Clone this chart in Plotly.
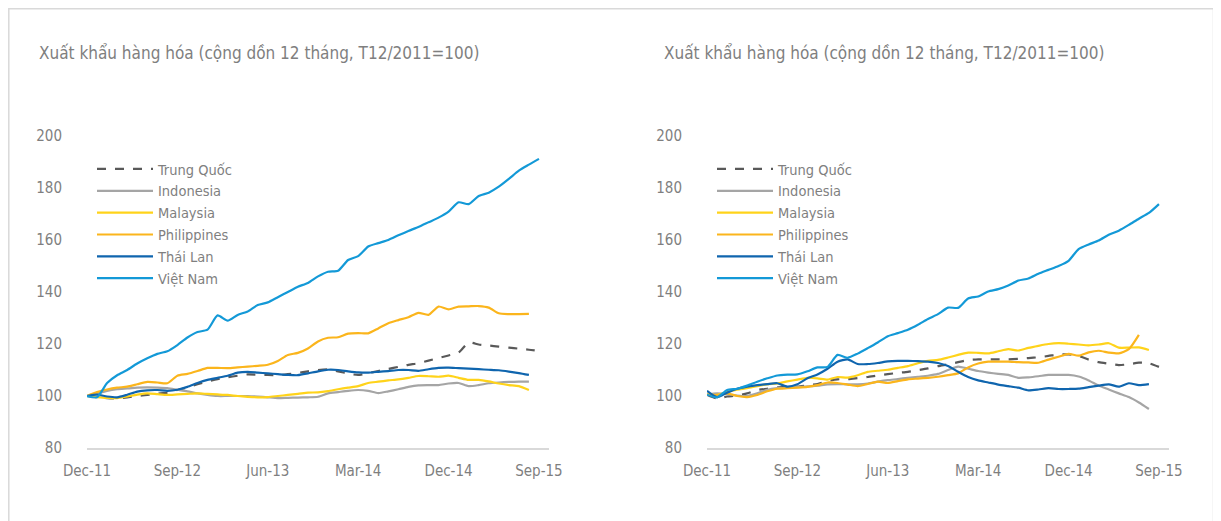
import plotly.graph_objects as go

# ---- data ----
month_labels = [
    "Dec-11", "Jan-12", "Feb-12", "Mar-12", "Apr-12", "May-12", "Jun-12", "Jul-12", "Aug-12", "Sep-12",
    "Oct-12", "Nov-12", "Dec-12", "Jan-13", "Feb-13", "Mar-13", "Apr-13", "May-13", "Jun-13", "Jul-13",
    "Aug-13", "Sep-13", "Oct-13", "Nov-13", "Dec-13", "Jan-14", "Feb-14", "Mar-14", "Apr-14", "May-14",
    "Jun-14", "Jul-14", "Aug-14", "Sep-14", "Oct-14", "Nov-14", "Dec-14", "Jan-15", "Feb-15", "Mar-15",
    "Apr-15", "May-15", "Jun-15", "Jul-15", "Aug-15", "Sep-15",
]
tick_labels = ["Dec-11", "Sep-12", "Jun-13", "Mar-14", "Dec-14", "Sep-15"]
series_names = ["Trung Quốc", "Indonesia", "Malaysia", "Philippines", "Thái Lan", "Việt Nam"]
chart_title = "Xuất khẩu hàng hóa (cộng dồn 12 tháng, T12/2011=100)"

# left chart
left_china = [100, 99.5, 99.2, 99.1, 99.5, 100, 100.4, 100.9, 101.3, 102.3, 103.3, 104.5, 105.6, 106.5,
              107.2, 107.8, 108.3, 108.2, 108.1, 108, 108.4, 108.9, 109.5, 110, 110.2, 109.5, 108.6, 108.1,
              108.8, 109.6, 110.4, 111.2, 112, 112.6, 113.6, 114.6, 115.6, 116.7, 120.6, 119.8, 119.4, 119,
              118.6, 118.2, 117.8, 117.3]
left_indonesia = [100, 101, 102, 102.6, 102.9, 103.2, 103.3, 103.2, 103, 102.4, 101.8, 101, 100.4, 100,
                  100, 100, 100, 99.8, 99.5, 99.2, 99.3, 99.4, 99.5, 99.7, 101, 101.5, 102, 102.3, 102,
                  101.1, 101.8, 102.6, 103.5, 104.1, 104.2, 104.2, 104.8, 105, 103.8, 104.2, 104.9, 105.2,
                  105.4, 105.5, 105.5]
left_malaysia = [100, 99.6, 99.3, 99.2, 99.8, 100.5, 101, 100.7, 100.4, 100.6, 100.8, 101, 100.8, 100.6,
                 100.4, 100, 99.7, 99.5, 99.6, 100, 100.4, 100.8, 101.3, 101.4, 101.9, 102.6, 103.2, 103.8,
                 105, 105.5, 106, 106.4, 107, 107.7, 107.6, 107.4, 107.8, 107, 106.2, 106.2, 105.6, 104.8,
                 104.2, 103.8, 102.3]
left_philippines = [100, 101.5, 102.5, 103.2, 103.6, 104.5, 105.4, 105.2, 104.9, 107.8, 108.5, 109.6,
                    110.8, 110.8, 110.7, 111, 111.3, 111.6, 112, 113.5, 115.8, 116.6, 118.3, 121, 122.4,
                    122.6, 124, 124.2, 124.1, 126, 128, 129.2, 130.3, 132, 131.2, 134.4, 133.3, 134.4,
                    134.5, 134.6, 134, 131.8, 131.5, 131.5, 131.6]
left_thailand = [100, 100.5, 99.8, 99.5, 100.5, 101.7, 102.2, 102.3, 102, 102.4, 103.5, 105, 106.2, 107,
                 107.8, 109, 109.3, 109, 108.7, 108.4, 108.1, 108, 108.7, 109.5, 110.1, 110, 109.5, 109.1,
                 109, 109.3, 109.6, 110, 110, 109.7, 110.3, 110.8, 110.9, 110.7, 110.5, 110.3, 110.1,
                 109.9, 109.4, 108.8, 108.1]
left_vietnam = [100, 99.5, 105, 108, 110, 112.5, 114.5, 116.2, 117.2, 119.6, 122.5, 124.6, 125.5, 131,
                129, 131.2, 132.5, 135, 136, 138, 140, 142, 143.5, 146, 147.8, 148.2, 152.3, 153.8, 157.5,
                158.8, 160, 161.8, 163.5, 165, 166.8, 168.6, 170.9, 174.5, 173.8, 176.9, 178.2, 180.5,
                183.5, 186.7, 189, 191.2]

# right chart
right_china = [100.5, 99.1, 99.8, 100.2, 101, 102.3, 102.8, 103.3, 103.5, 103.6, 104.1, 104.6, 105.8,
               106.4, 106.5, 106.9, 107.3, 107.9, 108.4, 108.9, 109.3, 109.9, 110.6, 111.5, 112.2, 113,
               113.8, 114.1, 114.1, 114.1, 114.1, 114.3, 114.6, 114.9, 115.4, 116, 116, 115.4, 114, 113,
               112.4, 111.9, 112.2, 112.8, 112.6, 111.2]
right_indonesia = [100.5, 101, 100.7, 100.2, 100, 101, 102.4, 103, 103.2, 103.4, 103.7, 104, 104.5, 104.6,
                   104.5, 104.5, 104.8, 105.5, 106.1, 106.5, 107, 107.4, 107.8, 108.5, 110, 111.3, 110.5,
                   109.6, 109, 108.5, 108.1, 107, 107.2, 107.6, 108.1, 108.1, 108.1, 107.5, 106, 104,
                   102.5, 101, 99.6, 97.5, 95]
right_malaysia = [100.5, 100.4, 101.5, 102.4, 103, 103.8, 104.5, 104.8, 105.6, 106.3, 107, 106.8, 106.3,
                  107.3, 107.1, 108, 109.3, 109.7, 110.1, 110.8, 111.5, 112.6, 113.5, 113.9, 114.8, 115.8,
                  116.7, 116.6, 116.4, 117.2, 118, 117.5, 118.5, 119.3, 120, 120.3, 120.1, 119.8, 119.5,
                  119.8, 120.3, 118.6, 118.6, 118.7, 117.7]
right_philippines = [100.5, 100.4, 101, 100, 99.6, 100.4, 101.8, 102.8, 103, 103.2, 103.5, 104.2, 105.2,
                     105, 104.4, 103.8, 104.6, 105.5, 105, 105.7, 106.4, 106.7, 107, 107.4, 108, 108.7,
                     111, 112.5, 113.2, 113.2, 113.2, 113, 112.9, 112.8, 114, 115.1, 116.2, 115.5, 116.8,
                     117.4, 116.7, 116.4, 118, 123.5]
right_thailand = [102, 99.6, 101.3, 102.8, 103.6, 104.2, 104.6, 104.9, 103.6, 104.5, 106.8, 108.3, 110.5,
                  113.2, 114.1, 112.3, 112.3, 112.7, 113.3, 113.5, 113.5, 113.4, 113.2, 112.7, 111.5, 109.3,
                  107.3, 106, 105.2, 104.4, 103.8, 103.2, 102.2, 102.5, 103, 102.7, 102.7, 102.8, 103.4,
                  104, 104.5, 103.6, 104.9, 104.2, 104.6]
right_vietnam = [100.5, 99.5, 102.3, 102.8, 104, 105.5, 106.8, 107.9, 108.2, 108.3, 109.5, 111, 111.2,
                 115.8, 114.7, 116.3, 118.4, 120.6, 123, 124.2, 125.5, 127.4, 129.6, 131.5, 134, 133.9,
                 137.5, 138.3, 140.2, 141.1, 142.5, 144.4, 145.2, 147, 148.5, 150, 152, 156.5, 158.3,
                 159.8, 162, 163.6, 165.8, 168.2, 170.4, 173.8]

left_series = [left_china, left_indonesia, left_malaysia, left_philippines, left_thailand, left_vietnam]
right_series = [right_china, right_indonesia, right_malaysia, right_philippines, right_thailand, right_vietnam]

# ---- styles ----
colors = ["#595959", "#A5A5A5", "#FFD31A", "#FBB51C", "#0F65AE", "#1399D7"]
dashes = ["dash", "solid", "solid", "solid", "solid", "solid"]
FONT = "Liberation Sans Narrow, DejaVu Sans Condensed, Arial Narrow, sans-serif"
TXT = "#7F7F7F"
# the page body adds an 8 px margin, so the figure is 8 px smaller and positions are
# given in page pixels minus that offset
OFF = 8
W, H = 1221 - OFF, 521 - OFF


def px(x):
    return (x - OFF) / W


def py(y):
    return 1 - (y - OFF) / H


fig = go.Figure()

for series, xa, ya, lg in [(left_series, "x", "y", "legend"),
                           (right_series, "x2", "y2", "legend2")]:
    for name, vals, col, dsh in zip(series_names, series, colors, dashes):
        fig.add_trace(go.Scatter(
            x=month_labels[:len(vals)], y=vals, name=name, mode="lines",
            line=dict(color=col, width=2.2, dash=dsh, shape="spline", smoothing=0.6),
            xaxis=xa, yaxis=ya, legend=lg, hoverinfo="x+y+name",
        ))

ydom = [py(448), py(136)]
xcommon = dict(type="category", categoryorder="array", categoryarray=month_labels,
               range=[0, 46], tickmode="array", tickvals=tick_labels, ticktext=tick_labels,
               showgrid=False, zeroline=False, showline=True, linecolor="#D9D9D9", linewidth=1.5,
               ticks="", tickfont=dict(family=FONT, size=15, color=TXT), ticklabelstandoff=8,
               automargin=False, fixedrange=True)
ycommon = dict(range=[80, 200], tickvals=[80, 100, 120, 140, 160, 180, 200], showgrid=False,
               zeroline=False, showline=False, ticks="", domain=ydom,
               tickfont=dict(family=FONT, size=15, color=TXT), ticklabelstandoff=24,
               automargin=False, fixedrange=True)

legend_common = dict(font=dict(family=FONT, size=14.5, color=TXT), bgcolor="rgba(0,0,0,0)",
                     tracegroupgap=0, itemwidth=56, yanchor="top", xanchor="left",
                     itemclick=False, itemdoubleclick=False)

fig.update_layout(
    template="none",
    width=W, height=H,
    margin=dict(l=0, r=0, t=0, b=0, autoexpand=False),
    paper_bgcolor="white", plot_bgcolor="white",
    showlegend=True,
    xaxis=dict(domain=[px(87), px(549)], anchor="y", **xcommon),
    yaxis=dict(anchor="x", **ycommon),
    xaxis2=dict(domain=[px(707), px(1169)], anchor="y2", **xcommon),
    yaxis2=dict(anchor="x2", **ycommon),
    legend=dict(x=px(92), y=py(153), **legend_common),
    legend2=dict(x=px(712), y=py(153), **legend_common),
    annotations=[
        dict(text=chart_title, xref="paper", yref="paper", x=px(37), y=py(53),
             xanchor="left", yanchor="middle", showarrow=False,
             font=dict(family=FONT, size=17, color=TXT)),
        dict(text=chart_title, xref="paper", yref="paper", x=px(662), y=py(53),
             xanchor="left", yanchor="middle", showarrow=False,
             font=dict(family=FONT, size=17, color=TXT)),
    ],
    shapes=[
        dict(type="rect", xref="paper", yref="paper", x0=px(8.8), x1=px(1213.5),
             y0=-0.2, y1=py(8.8), line=dict(color="#D9D9D9", width=1.5),
             fillcolor="rgba(0,0,0,0)", layer="below"),
    ],
)

fig.write_html("out.html")
